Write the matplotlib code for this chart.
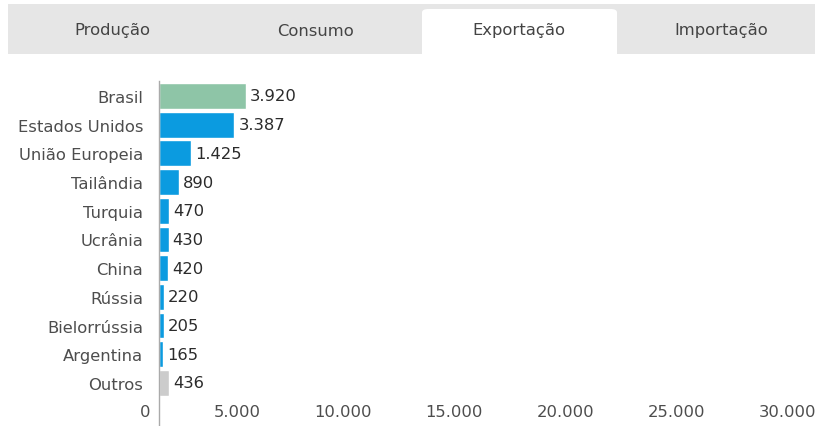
import matplotlib
matplotlib.use("Agg")
import matplotlib.pyplot as plt
from matplotlib.patches import Rectangle, FancyBboxPatch
from matplotlib.transforms import offset_copy

countries = ["Brasil", "Estados Unidos", "União Europeia", "Tailândia", "Turquia",
             "Ucrânia", "China", "Rússia", "Bielorrússia", "Argentina", "Outros"]
values = [3920, 3387, 1425, 890, 470, 430, 420, 220, 205, 165, 436]
value_labels = ["3.920", "3.387", "1.425", "890", "470", "430", "420", "220", "205", "165", "436"]
colors = ["#8ec5a7"] + ["#0b9be0"] * 9 + ["#cccccc"]
xticks = [0, 5000, 10000, 15000, 20000, 25000, 30000]
xtick_labels = ["0", "5.000", "10.000", "15.000", "20.000", "25.000", "30.000"]
tabs = ["Produção", "Consumo", "Exportação", "Importação"]
active_tab = 2

plt.rcParams['font.family'] = ['DejaVu Sans']
FS = 11.8

W, H = 815, 427
fig = plt.figure(figsize=(W / 100, H / 100), dpi=100)

# Tabs
fig.patches.append(Rectangle((8 / W, 1 - 55 / H), (W - 8) / W, 50 / H,
                             transform=fig.transFigure, facecolor="#e6e6e6",
                             edgecolor="none", zorder=0))
tab_w = 203
for i, t in enumerate(tabs):
    x0 = 13 + i * tab_w
    if i == active_tab:
        fig.patches.append(FancyBboxPatch(((x0 + 3) / W, 1 - 62 / H), (tab_w - 8) / W, 52 / H,
                                          boxstyle="round,pad=0,rounding_size=0.008",
                                          transform=fig.transFigure, facecolor="white",
                                          edgecolor="none", zorder=1))
    fig.text((x0 + tab_w / 2 - 2) / W, 1 - 31 / H, t, ha="center", va="center",
             fontsize=FS, color="#444444", zorder=2)

# Axes
row = 28.7
top_px = 82
n = len(countries)
ax_top = top_px
ax_bottom = H
ax = fig.add_axes([159 / W, 1 - ax_bottom / H, 666 / W, (ax_bottom - ax_top) / H])
ypos = list(range(n))
ax.barh(ypos, values, height=0.9, color=colors, edgecolor="white", linewidth=1.0)
y_bot_lim = (n - 1) + (H - 384) / row
ax.set_ylim(y_bot_lim, -0.52)
ax.set_xlim(0, 30000)
ax.set_yticks(ypos)
ax.set_yticklabels(countries, fontsize=FS, color="#4d4d4d")
ax.tick_params(axis="y", length=0, pad=11.5)
ax.set_xticks([])
for s in ["top", "right", "bottom"]:
    ax.spines[s].set_visible(False)
ax.spines["left"].set_color("#aaaaaa")
ax.spines["left"].set_linewidth(1)

for yv, v, lab in zip(ypos, values, value_labels):
    ax.annotate(lab, (v, yv), xytext=(3, 0), textcoords="offset points",
                ha="left", va="center", fontsize=FS, color="#2b2b2b")

# x tick labels, shifted left of the gridline positions as in reference
tr = offset_copy(ax.get_xaxis_transform(), fig=fig, x=-9, y=0, units="dots")
for xv, lab in zip(xticks, xtick_labels):
    ax.text(xv, (H - 413) / (ax_bottom - ax_top), lab, transform=tr, ha="right",
            va="center", fontsize=FS, color="#4d4d4d", clip_on=False)

fig.savefig("out.png", dpi=100)
